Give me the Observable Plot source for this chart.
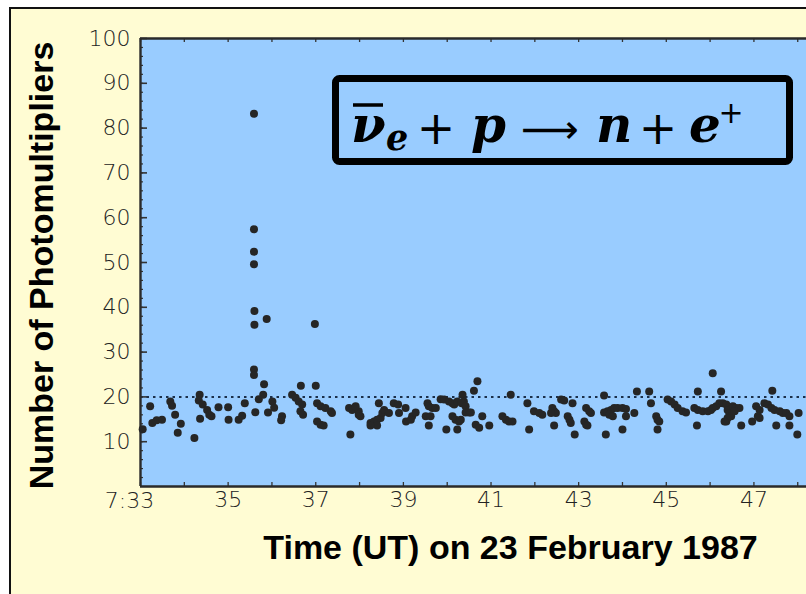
<!DOCTYPE html>
<html><head><meta charset="utf-8">
<script src="https://cdn.jsdelivr.net/npm/d3@7"></script>
<script src="https://cdn.jsdelivr.net/npm/@observablehq/plot@0.6"></script>
<style>
html,body{margin:0;padding:0;background:#fff;width:806px;height:594px;overflow:hidden}
#page{position:absolute;left:9px;top:7px;width:830px;height:620px;background:#FFFCD3;border-left:2.5px solid #111;border-top:2.5px solid #111}
#chart{position:absolute;left:0;top:0}
#formula{position:absolute;left:0;top:0}
</style></head>
<body>
<div id="page"></div>
<div id="chart"></div>
<svg id="formula" width="806" height="594">
  <rect x="335.5" y="78.5" width="454" height="83" rx="4" fill="none" stroke="#000" stroke-width="7"/>
  <line x1="353" x2="383" y1="105" y2="105" stroke="#000" stroke-width="3.5"/>
  <g font-family="DejaVu Serif" font-weight="bold" font-style="italic" fill="#000">
    <text x="351" y="142" font-size="50">ν</text>
    <text x="386" y="150" font-size="35">e</text>
    <text x="471" y="142" font-size="50">p</text>
    <text x="596" y="142" font-size="50">n</text>
    <text x="689" y="142" font-size="50">e</text>
  </g>
  <g font-family="DejaVu Sans" fill="#000" text-anchor="middle">
    <text x="436" y="144" font-size="46">+</text>
    <text x="550" y="143" font-size="40" textLength="58" lengthAdjust="spacingAndGlyphs">⟶</text>
    <text x="658" y="144" font-size="46">+</text>
    <text x="731" y="123" font-size="30">+</text>
  </g>
</svg>
<script>
// Time in minutes after 7:00 UT and number of hit photomultipliers
const minutes = [
  35.59,35.59,35.59,35.59,35.60,35.88,35.60,36.98,35.59,35.59,35.82,36.66,37.00,35.80,
  33.05,33.22,33.27,33.37,33.49,33.68,33.72,33.79,33.92,33.85,34.23,34.35,34.33,34.42,34.52,34.57,34.36,34.62,34.78,35.00,35.01,35.24,35.32,35.38,35.62,35.70,35.91,36.01,36.05,
  36.23,36.21,36.46,36.54,36.61,36.69,36.71,36.65,37.03,37.11,37.22,37.34,37.37,37.03,37.11,37.18,37.76,37.83,37.98,37.98,37.91,37.79,38.02,38.25,38.33,38.40,38.48,38.52,38.56,38.44,38.40,38.25,38.67,38.78,38.88,38.90,39.05,39.06,
  39.20,39.28,39.17,39.55,39.58,39.66,39.74,39.51,39.62,39.58,39.85,39.93,40.04,40.12,40.16,40.23,40.35,40.38,40.33,40.42,40.61,40.69,40.12,40.19,40.27,40.31,40.42,40.50,40.54,39.98,40.23,40.65,40.73,40.80,40.96,41.26,41.34,41.41,41.49,41.45,41.83,41.98,42.10,42.17,41.87,
  42.40,42.44,42.48,42.37,42.60,42.67,42.86,42.44,42.75,42.79,42.82,42.91,43.13,43.17,43.20,43.17,43.24,43.28,43.58,43.58,43.66,43.74,43.81,43.89,44.00,44.08,43.70,43.78,44.08,43.62,44.00,44.27,44.33,44.61,44.65,44.77,44.80,44.84,44.80,45.03,45.11,45.19,45.26,
  45.37,45.45,45.64,45.72,45.72,45.70,45.83,45.95,46.02,46.06,46.14,46.06,46.25,46.21,46.29,46.37,46.40,46.44,46.48,46.37,46.40,46.52,46.59,46.67,46.56,46.33,46.71,46.96,47.05,47.13,47.09,47.13,47.24,47.32,47.40,47.47,47.42,47.51,47.59,47.66,47.74,47.81,47.81,48.02,47.99
];
const photomultipliers = [
  83.2,57.4,52.4,49.6,39.2,37.4,36.1,36.3,26.1,24.9,22.8,22.5,22.5,20.5,
  12.8,17.9,14.2,14.8,14.9,19.0,18.0,16.0,14.0,12.0,10.8,20.5,19.2,18.3,17.1,16.0,15.1,15.7,17.7,17.7,14.9,14.9,15.8,18.6,16.6,19.5,16.5,19.0,17.6,
  15.7,14.8,20.5,19.8,19.0,18.3,16.0,16.8,18.6,17.9,17.5,16.8,16.4,14.5,13.8,13.6,17.5,17.1,16.8,16.0,17.9,11.6,15.7,14.2,14.5,14.9,15.3,16.4,17.1,18.6,13.6,13.6,16.4,18.6,18.3,16.4,17.5,14.5,
  15.7,16.5,14.9,18.6,17.9,17.5,17.5,15.7,15.7,13.6,19.5,19.4,19.0,18.6,18.3,19.0,20.5,19.0,18.6,17.9,21.4,23.5,15.7,14.9,14.5,14.9,16.5,16.5,16.5,12.7,12.7,13.8,13.1,15.7,13.6,15.7,14.9,14.5,14.5,20.5,18.6,16.8,16.4,16.0,12.7,
  17.5,16.8,16.4,16.4,19.4,19.2,18.6,13.6,15.7,14.9,14.2,11.6,14.5,13.8,13.6,17.5,16.8,16.4,20.3,16.5,16.8,17.1,17.5,17.5,17.5,17.3,16.0,15.7,15.7,11.6,12.7,16.4,21.2,21.2,18.6,15.7,14.9,14.5,12.7,19.4,19.0,18.3,17.5,
  16.8,16.5,17.5,17.1,21.2,13.6,16.8,16.8,17.1,17.5,17.9,25.3,21.2,18.6,18.6,18.3,17.1,16.4,15.7,14.5,15.3,17.9,17.5,17.5,16.8,14.5,13.6,14.5,17.9,17.1,15.7,15.3,18.6,18.3,17.5,17.1,21.4,13.6,16.8,16.4,16.4,15.7,13.6,16.4,11.6
];
const yTickValues = [10,20,30,40,50,60,70,80,90,100];
const yMinorValues = d3.range(2, 100, 2);
const xMinuteTicks = d3.range(33, 49, 1);
const xLabelValues = [35,37,39,41,43,45,47];
const xLabels = ["35","37","39","41","43","45","47"];
const firstLabel = ["7:33"];
const threshold = [20];
const xTitle = "Time (UT) on 23 February 1987";
const yTitle = "Number of Photomultipliers";

const events = minutes.map((m, i) => ({minute: m, hits: photomultipliers[i]}));

const tickFont = {fontFamily: "DejaVu Sans", fontWeight: 200, fill: "#222"};

const chart = Plot.plot({
  width: 806, height: 594,
  marginLeft: 140, marginRight: 0, marginTop: 38, marginBottom: 108,
  style: {background: "transparent", overflow: "visible"},
  x: {domain: [33, 48.2]},
  y: {domain: [0, 100]},
  marks: [
    Plot.frame({fill: "#99CCFF", stroke: null}),
    Plot.tickY(yMinorValues, {y: d => d, insetRight: 663, stroke: "#333", strokeWidth: 1.2}),
    Plot.tickY(yTickValues, {y: d => d, insetRight: 659, stroke: "#333", strokeWidth: 1.6}),
    Plot.tickX(xMinuteTicks, {x: d => d, insetTop: 444, stroke: "#333", strokeWidth: 1.3}),
    Plot.tickX(xMinuteTicks, {x: d => d, insetBottom: 444, stroke: "#333", strokeWidth: 1.3}),
    Plot.ruleY(threshold, {y: d => d, stroke: "#1b2f4a", strokeWidth: 2, strokeDasharray: "2.5,4"}),
    Plot.ruleX([33], {stroke: "#2a2a2a", strokeWidth: 2.4}),
    Plot.ruleY([0, 100], {stroke: "#2a2a2a", strokeWidth: 2.4}),
    Plot.dot(events, {x: "minute", y: "hits", r: 4, fill: "#262626", stroke: null}),
    Plot.axisY(yTickValues, {tickSize: 0, tickPadding: 10, fontSize: 22, label: null, ...tickFont}),
    Plot.axisX(xLabelValues, {tickSize: 0, tickPadding: 5, fontSize: 22, label: null, tickFormat: (d, i) => xLabels[i], ...tickFont}),
    Plot.text(firstLabel, {x: [33], frameAnchor: "bottom", lineAnchor: "middle", dy: 14, dx: -11, fontSize: 22, ...tickFont}),
    Plot.text([yTitle], {frameAnchor: "left", textAnchor: "middle", lineAnchor: "middle", dx: -98, dy: 3, rotate: -90, fontSize: 34, fontWeight: "bold", fontFamily: "Liberation Sans", fill: "#000"}),
    Plot.text([xTitle], {frameAnchor: "bottom", textAnchor: "middle", lineAnchor: "middle", dx: 37, dy: 62, fontSize: 34, fontWeight: "bold", fontFamily: "Liberation Sans", fill: "#000"})
  ]
});
document.getElementById("chart").appendChild(chart);
</script>
</body></html>
